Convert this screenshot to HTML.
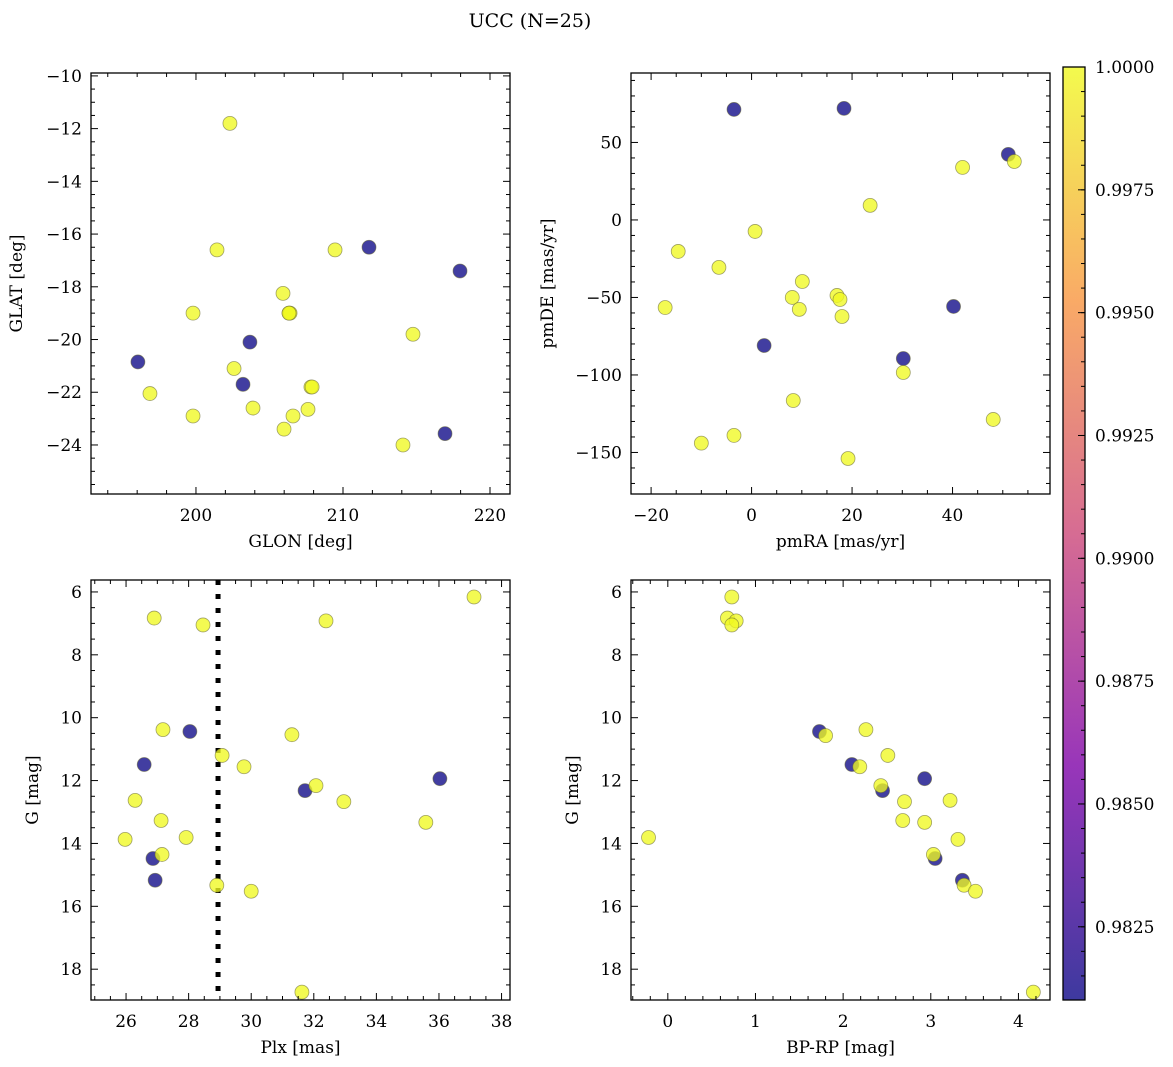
<!DOCTYPE html>
<html><head><meta charset="utf-8"><style>
html,body{margin:0;padding:0;background:#fff;}
svg{display:block;font-family:"DejaVu Serif","Liberation Serif",serif;}
</style></head><body>
<svg id="fig" width="1173" height="1067" viewBox="0 0 1173 1067" xmlns="http://www.w3.org/2000/svg">
<defs>
<linearGradient id="plasma" x1="0" y1="1" x2="0" y2="0">
<stop offset="0" stop-color="#0d0887"/><stop offset="0.25" stop-color="#7e03a8"/><stop offset="0.5" stop-color="#cc4778"/><stop offset="0.75" stop-color="#f89540"/><stop offset="1" stop-color="#f0f921"/>
</linearGradient>
</defs>
<text x="530" y="27" font-size="19" text-anchor="middle">UCC (N=25)</text>
</svg>
<script>
// ---- data ----
const tlGlon = [202.31,201.43,209.46,211.77,217.96,205.92,199.80,206.33,214.76,196.05,203.67,202.59,203.2,207.82,196.87,203.88,207.62,206.6,199.8,205.99,216.94,214.08,206.4,207.9,206.33];
const tlGlat = [-11.8,-16.6,-16.6,-16.5,-17.4,-18.25,-19.0,-19.0,-19.8,-20.85,-20.1,-21.1,-21.7,-21.8,-22.05,-22.6,-22.65,-22.9,-22.9,-23.4,-23.57,-24.0,-19.0,-21.8,-19.0];
const tlProb = [1,1,1,0.981,0.981,1,1,1,1,0.981,0.981,1,0.981,1,1,1,1,1,1,1,0.981,1,1,1,1];
const trPmra = [-3.5,18.4,51.1,40.2,30.2,2.5,52.3,42,23.6,0.7,-14.6,-6.5,10.1,-17.2,8.1,17,17.6,9.5,18,30.2,8.3,48.1,-3.5,-10,19.2];
const trPmde = [71.3,72,42.3,-55.8,-89.4,-81,37.7,33.9,9.4,-7.4,-20.3,-30.6,-39.7,-56.5,-50,-48.7,-51.3,-57.7,-62.3,-98.4,-116.5,-128.7,-139,-144,-153.9];
const trProb = [0.981,0.981,0.981,0.981,0.981,0.981,1,1,1,1,1,1,1,1,1,1,1,1,1,1,1,1,1,1,1];
const blPlx = [26.9,28.46,32.39,37.12,27.18,29.07,31.3,29.77,32.07,26.29,32.96,27.12,35.58,25.97,27.92,27.15,28.9,30.0,31.62,28.04,26.58,31.72,36.03,26.86,26.93];
const blG = [6.83,7.05,6.92,6.16,10.38,11.2,10.54,11.56,12.16,12.63,12.67,13.27,13.33,13.87,13.81,14.35,15.33,15.52,18.73,10.44,11.49,12.32,11.94,14.48,15.17];
const blProb = [1,1,1,1,1,1,1,1,1,1,1,1,1,1,1,1,1,1,1,0.981,0.981,0.981,0.981,0.981,0.981];
const brBprp = [0.73,0.68,0.78,0.73,1.8,2.26,2.51,2.19,2.43,3.22,2.70,2.68,2.93,3.31,-0.22,3.03,3.38,3.51,4.17,1.73,2.1,2.45,2.93,3.05,3.36];
const brG = [6.16,6.83,6.92,7.05,10.57,10.38,11.2,11.56,12.16,12.63,12.67,13.27,13.33,13.87,13.81,14.35,15.33,15.52,18.73,10.44,11.49,12.32,11.94,14.48,15.17];
const brProb = [1,1,1,1,1,1,1,1,1,1,1,1,1,1,1,1,1,1,1,0.981,0.981,0.981,0.981,0.981,0.981];
const plxLine = [28.94];
const cbTicks = [0.9825,0.9850,0.9875,0.9900,0.9925,0.9950,0.9975,1.0000];

const NS='http://www.w3.org/2000/svg';
const svg=document.getElementById('fig');
function mk(tag,attrs,parent){const e=document.createElementNS(NS,tag);for(const k in attrs)e.setAttribute(k,attrs[k]);(parent||svg).appendChild(e);return e;}
function colorOf(p){return p>0.99?'#f0f921':'#0d0887';}

function panel(o){
  const g=mk('g',{});
  
  
  const sx=v=>o.x0+(v-o.xmin)/(o.xmax-o.xmin)*(o.x1-o.x0);
  const sy=o.yinv?(v=>o.y0+(v-o.ymin)/(o.ymax-o.ymin)*(o.y1-o.y0)):(v=>o.y1-(v-o.ymin)/(o.ymax-o.ymin)*(o.y1-o.y0));
  if(o.vline){o.vline.forEach(v=>{const l=mk('line',{x1:sx(v),x2:sx(v),y1:o.y0,y2:o.y1,stroke:'#000','stroke-width':5,'stroke-dasharray':'5 9'},g);
    
    });}
  const order=o.xs.map((_,i)=>i).sort((a,b)=>o.ps[a]-o.ps[b]);
  order.forEach(i=>{
    const c=mk('circle',{cx:sx(o.xs[i]),cy:sy(o.ys[i]),r:7,fill:colorOf(o.ps[i]),'fill-opacity':0.78,stroke:'#666633','stroke-opacity':0.6,'stroke-width':0.8},g);
    
    
  });
  const fr=mk('rect',{x:o.x0,y:o.y0,width:o.x1-o.x0,height:o.y1-o.y0,fill:'none',stroke:'#000','stroke-width':1.3},g);
  
  
  const eps=1e-6;
  for(let v=Math.ceil(o.xmin/o.xmn)*o.xmn;v<=o.xmax+eps;v+=o.xmn){
    const isMaj=Math.abs(v/o.xmj-Math.round(v/o.xmj))<1e-4;const L=isMaj?7:4;const x=sx(v);
    mk('line',{x1:x,x2:x,y1:o.y1,y2:o.y1-L,stroke:'#000','stroke-width':1},g);
    mk('line',{x1:x,x2:x,y1:o.y0,y2:o.y0+L,stroke:'#000','stroke-width':1},g);
    if(isMaj){const t=mk('text',{x:x,y:o.y1+27,'font-size':17,'text-anchor':'middle'},g);t.textContent=(Math.round(v/o.xmj)*o.xmj).toFixed(0).replace('-','\u2212');
      
      }
  }
  for(let v=Math.ceil(o.ymin/o.ymn)*o.ymn;v<=o.ymax+eps;v+=o.ymn){
    const isMaj=Math.abs(v/o.ymj-Math.round(v/o.ymj))<1e-4;const L=isMaj?7:4;const y=sy(v);
    mk('line',{x1:o.x0,x2:o.x0+L,y1:y,y2:y,stroke:'#000','stroke-width':1},g);
    mk('line',{x1:o.x1,x2:o.x1-L,y1:y,y2:y,stroke:'#000','stroke-width':1},g);
    if(isMaj){const t=mk('text',{x:o.x0-9,y:y+6,'font-size':17,'text-anchor':'end'},g);t.textContent=(Math.round(v/o.ymj)*o.ymj).toFixed(0).replace('-','\u2212');
      
      }
  }
  const xl=mk('text',{x:(o.x0+o.x1)/2,y:o.y1+53,'font-size':17,'text-anchor':'middle'},g);xl.textContent=o.xlabel;
  
  
  const yx=o.ylx,yy=(o.y0+o.y1)/2;
  const yl=mk('text',{x:yx,y:yy,'font-size':17,'text-anchor':'middle',transform:`rotate(-90 ${yx} ${yy})`},g);yl.textContent=o.ylabel;
  
  
}

panel({name:'glon-glat-panel',x0:91,x1:510,y0:73,y1:494,xmin:192.86,xmax:221.36,ymin:-25.86,ymax:-9.89,xmj:10,xmn:2,ymj:2,ymn:0.5,xs:tlGlon,ys:tlGlat,ps:tlProb,xlabel:'GLON [deg]',ylabel:'GLAT [deg]',ylx:22});
panel({name:'pm-panel',x0:631,x1:1050,y0:73,y1:494,xmin:-24,xmax:59.4,ymin:-176.8,ymax:94.8,xmj:20,xmn:5,ymj:50,ymn:10,xs:trPmra,ys:trPmde,ps:trProb,xlabel:'pmRA [mas/yr]',ylabel:'pmDE [mas/yr]',ylx:553});
panel({name:'plx-g-panel',x0:91,x1:510,y0:580,y1:1000,xmin:24.88,xmax:38.27,ymin:5.62,ymax:18.98,yinv:true,xmj:2,xmn:0.5,ymj:2,ymn:0.5,xs:blPlx,ys:blG,ps:blProb,xlabel:'Plx [mas]',ylabel:'G [mag]',ylx:38,vline:plxLine});
panel({name:'cmd-panel',x0:631,x1:1050,y0:580,y1:1000,xmin:-0.42,xmax:4.36,ymin:5.62,ymax:18.98,yinv:true,xmj:1,xmn:0.2,ymj:2,ymn:0.5,xs:brBprp,ys:brG,ps:brProb,xlabel:'BP-RP [mag]',ylabel:'G [mag]',ylx:578});

// colorbar
const cb=mk('g',{});


const cy0=67,cy1=1000,cmin=0.98101,cmax=1.0;
const csy=v=>cy1-(v-cmin)/(cmax-cmin)*(cy1-cy0);
mk('rect',{x:1063,y:cy0,width:22,height:cy1-cy0,fill:'url(#plasma)','fill-opacity':0.8},cb);
mk('rect',{x:1063,y:cy0,width:22,height:cy1-cy0,fill:'none',stroke:'#000','stroke-width':1.3},cb);
for(let v=0.9815;v<=1.00001;v+=0.0005){const y=csy(v);mk('line',{x1:1085,x2:1081,y1:y,y2:y,stroke:'#000','stroke-width':1},cb);}
cbTicks.forEach(v=>{const y=csy(v);mk('line',{x1:1085,x2:1078,y1:y,y2:y,stroke:'#000','stroke-width':1},cb);
  const t=mk('text',{x:1095,y:y+6,'font-size':17},cb);t.textContent=v.toFixed(4);
  
  });
</script>
</body></html>
